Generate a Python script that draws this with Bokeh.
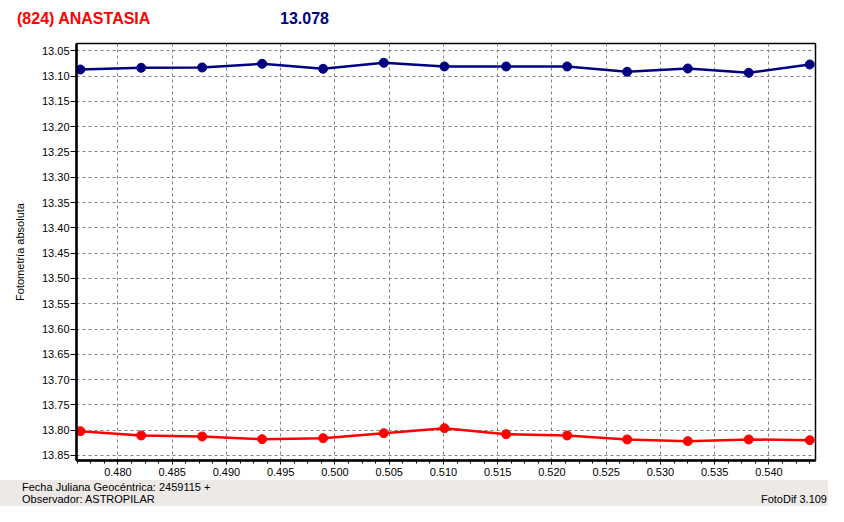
from bokeh.plotting import figure
from bokeh.models import Range1d, FixedTicker, NumeralTickFormatter, ColumnDataSource, Div
from bokeh.layouts import column
from bokeh.embed import file_html
from bokeh.resources import INLINE

# ---- data ----
jd_frac = [0.47654, 0.48214, 0.48776, 0.49329, 0.49891, 0.50450, 0.51009,
           0.51578, 0.52140, 0.52693, 0.53252, 0.53814, 0.54376]
mag_asteroid = [13.0870, 13.0836, 13.0830, 13.0757, 13.0856, 13.0737, 13.0810,
                13.0810, 13.0810, 13.0915, 13.0850, 13.0935, 13.0771]
mag_second = [13.8019, 13.8104, 13.8124, 13.8177, 13.8158, 13.8059, 13.7960,
              13.8079, 13.8104, 13.8183, 13.8217, 13.8183, 13.8197]
x_ticks = [0.480, 0.485, 0.490, 0.495, 0.500, 0.505, 0.510,
           0.515, 0.520, 0.525, 0.530, 0.535, 0.540]
y_ticks = [13.05, 13.10, 13.15, 13.20, 13.25, 13.30, 13.35, 13.40, 13.45,
           13.50, 13.55, 13.60, 13.65, 13.70, 13.75, 13.80, 13.85]
title_name = "(824) ANASTASIA"
title_value = "13.078"
y_label = "Fotometría absoluta"
footer_date = "Fecha Juliana Geocéntrica: 2459115 +"
footer_obs = "Observador: ASTROPILAR"
footer_soft = "FotoDif 3.109"

FONT = "Liberation Sans"
W = 828
LEFT, RIGHT = 76, 13
HEAD_H, PLOT_H, FOOT_H = 40, 440, 26
GRAY = "#ECE9E7"

# header
span = "position:absolute;white-space:nowrap;"
header = Div(width=W, height=HEAD_H, margin=0, text=(
    f'<div style="position:relative;width:{W}px;height:{HEAD_H}px;background:white;'
    f'font-family:\'{FONT}\';font-weight:bold;font-size:16px;line-height:18px;">'
    f'<span style="{span}left:17px;top:10px;color:#FF0000;">{title_name}</span>'
    f'<span style="{span}left:280px;top:10px;color:#000080;">{title_value}</span>'
    f'</div>'))

# main plot
p = figure(width=W, height=PLOT_H, output_backend="svg", toolbar_location=None,
           x_range=Range1d(0.47618, 0.54429), y_range=Range1d(13.8599, 13.0356),
           min_border_left=LEFT, min_border_top=3, min_border_right=RIGHT, min_border_bottom=20)
p.background_fill_color = "white"
p.border_fill_color = "white"
p.outline_line_color = "black"
p.outline_line_width = 1.5

src = ColumnDataSource(dict(x=jd_frac, a=mag_asteroid, b=mag_second))
p.line("x", "a", source=src, line_color="#000080", line_width=2.5)
p.scatter("x", "a", source=src, size=9, fill_color="#000080", line_color="#000080")
p.line("x", "b", source=src, line_color="#FF0000", line_width=2.5)
p.scatter("x", "b", source=src, size=9, fill_color="#FF0000", line_color="#FF0000")

minor_x = [t + k * 0.00125 for t in [0.475] + x_ticks for k in (1, 2, 3)]
p.xaxis.ticker = FixedTicker(ticks=x_ticks, minor_ticks=minor_x)
p.yaxis.ticker = FixedTicker(ticks=y_ticks)
p.xaxis.formatter = NumeralTickFormatter(format="0.000")
p.yaxis.formatter = NumeralTickFormatter(format="0.00")

for ax in (p.xaxis[0], p.yaxis[0]):
    ax.axis_line_color = "black"
    ax.axis_line_width = 2.5
    ax.major_tick_line_color = "black"
    ax.minor_tick_line_color = "black"
    ax.major_tick_in = 0
    ax.minor_tick_in = 0
    ax.major_label_text_font = FONT
    ax.major_label_text_font_size = "11px"
    ax.major_label_text_color = "black"

p.yaxis.major_tick_out = 6
p.yaxis.minor_tick_out = 0
p.yaxis.major_label_standoff = 1
p.yaxis.axis_label = y_label
p.yaxis.axis_label_text_font = FONT
p.yaxis.axis_label_text_font_size = "11px"
p.yaxis.axis_label_text_font_style = "normal"
p.yaxis.axis_label_text_color = "black"
p.yaxis.axis_label_standoff = 13

p.xaxis.major_tick_out = 4
p.xaxis.minor_tick_out = 3
p.xaxis.major_label_standoff = 3

for g in (p.xgrid[0], p.ygrid[0]):
    g.grid_line_color = "#808080"
    g.grid_line_dash = "3 3"
    g.grid_line_width = 1
p.xgrid.ticker = FixedTicker(ticks=x_ticks)
p.ygrid.ticker = FixedTicker(ticks=y_ticks)

# footer panel
footer = Div(width=W, height=FOOT_H, margin=0, text=(
    f'<div style="position:relative;width:{W}px;height:{FOOT_H}px;background:{GRAY};overflow:hidden;'
    f'font-family:\'{FONT}\';font-size:11px;line-height:12px;color:black;">'
    f'<span style="{span}left:22px;top:1px;">{footer_date}</span>'
    f'<span style="{span}left:22px;top:13px;">{footer_obs}</span>'
    f'<span style="{span}right:1px;top:13px;">{footer_soft}</span>'
    f'</div>'))

layout = column(header, p, footer, spacing=0)
open("out.html", "w").write(file_html(layout, INLINE))
